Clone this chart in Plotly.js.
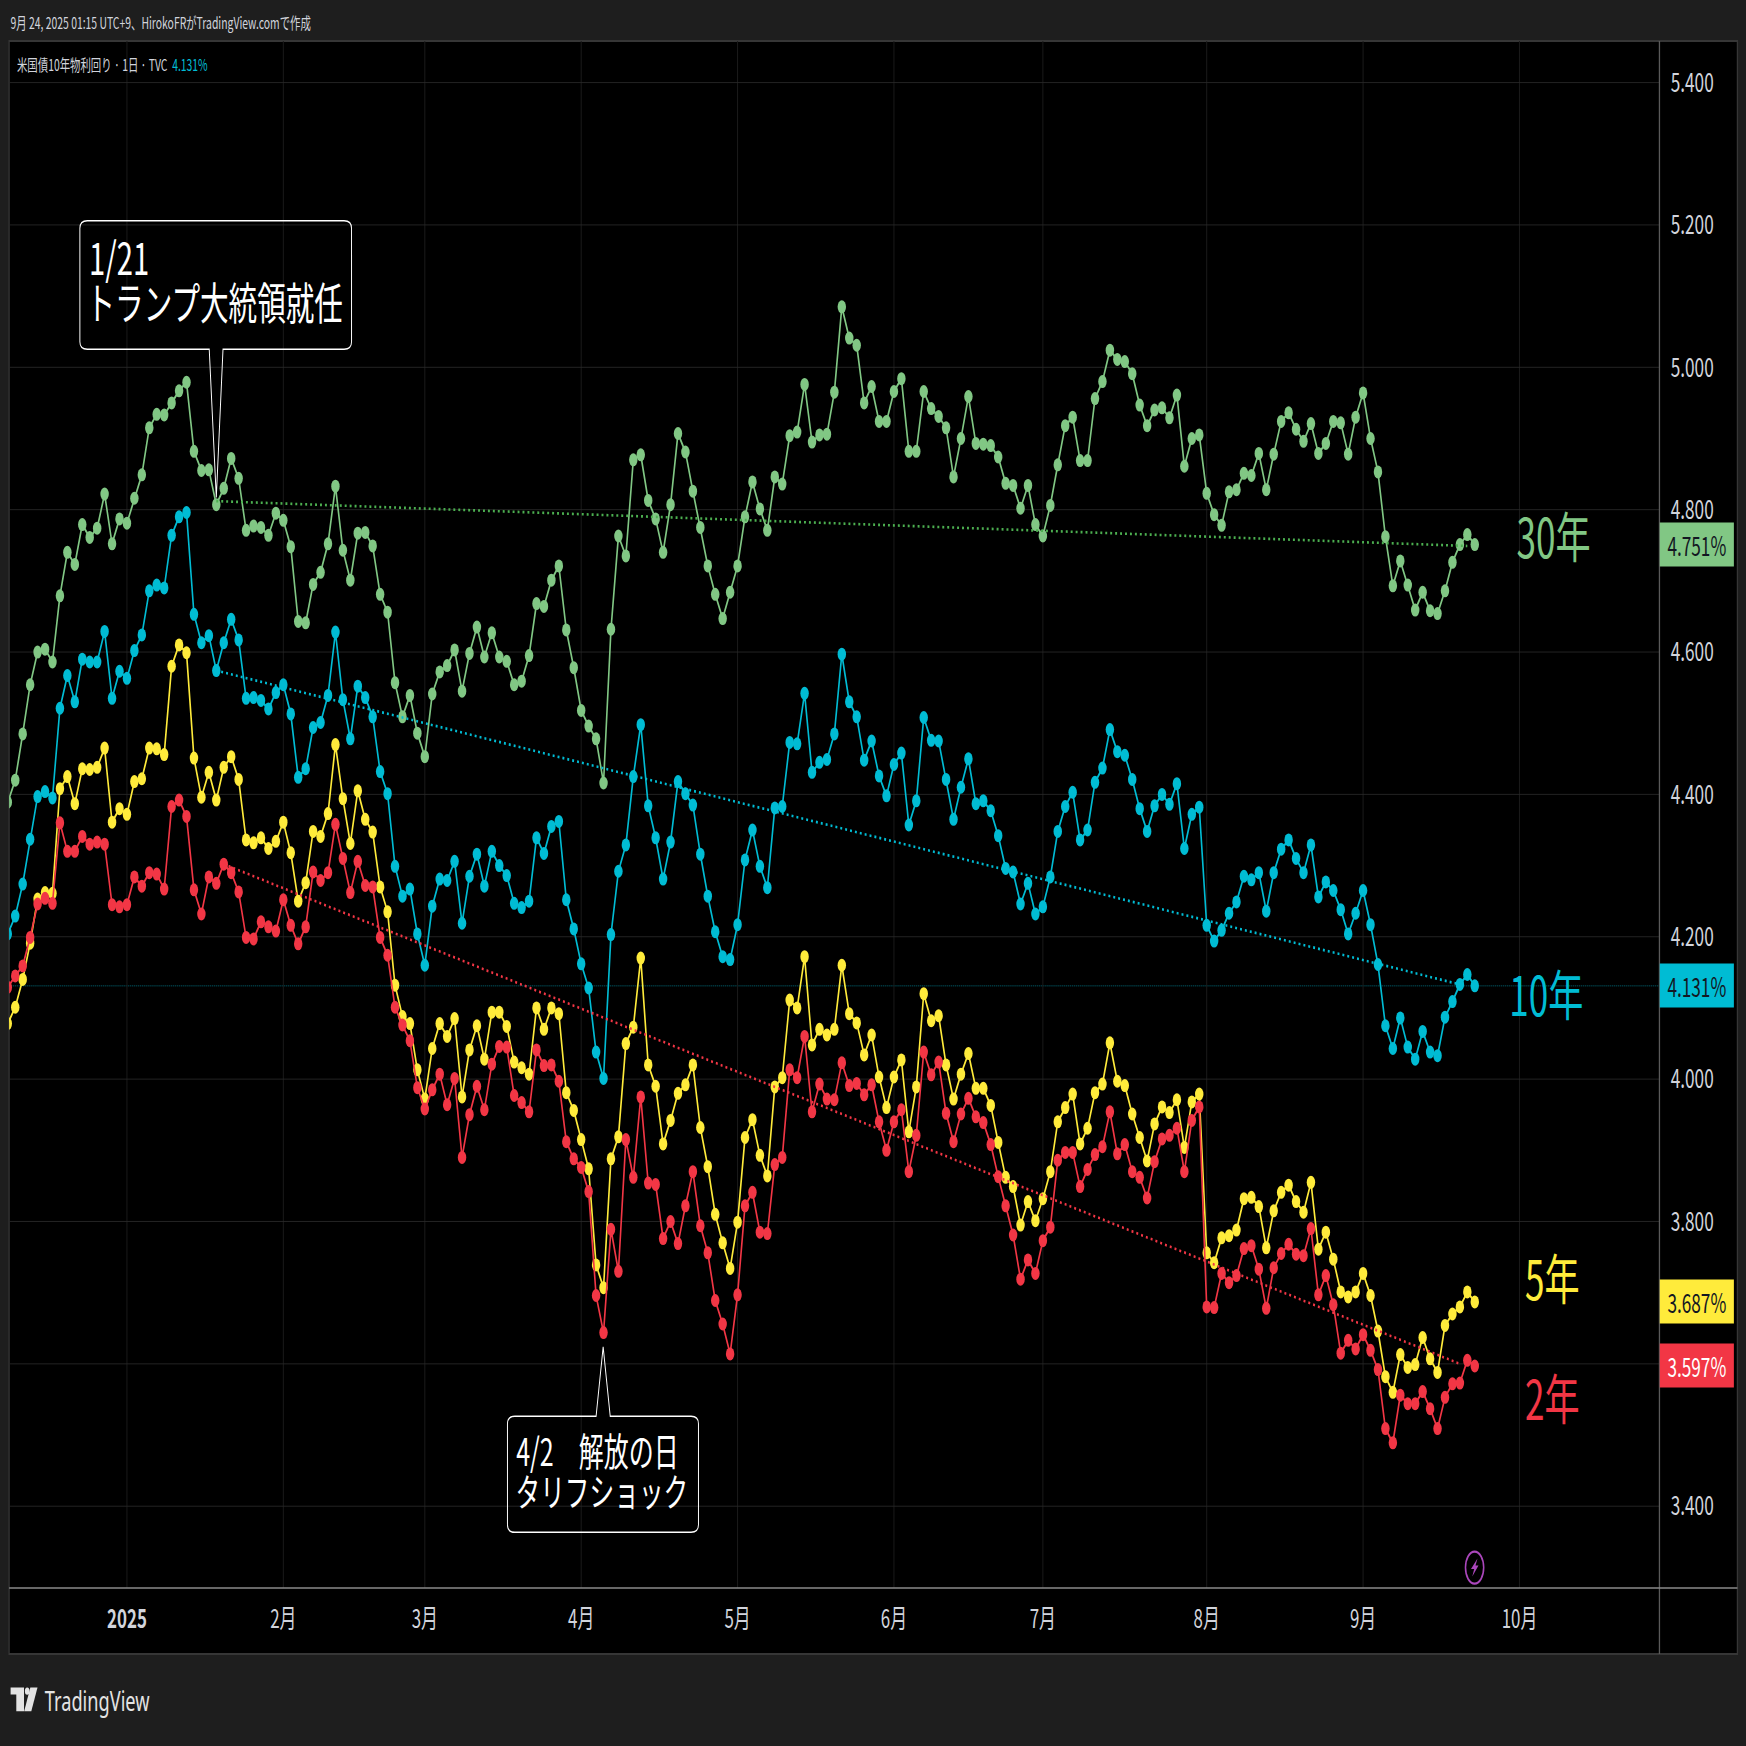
<!DOCTYPE html>
<html><head><meta charset="utf-8">
<script src="https://cdn.plot.ly/plotly-3.0.1.min.js"></script>
<style>
html,body{margin:0;padding:0;width:1746px;height:1746px;overflow:hidden;background:#1e1e1e}
#wrap{width:1746px;height:1746px;overflow:hidden;position:relative}
#chart{width:2686px;height:1746px;transform:scaleX(0.65);transform-origin:0 0;position:absolute;left:0;top:0}
</style></head><body><div id="wrap"><div id="chart"></div></div>
<script>
const yield30=[4.389,4.42,4.485,4.554,4.60,4.604,4.586,4.679,4.74,4.723,
4.779,4.761,4.774,4.822,4.752,4.787,4.781,4.816,4.849,4.915,
4.934,4.933,4.950,4.967,4.979,4.882,4.855,4.856,4.807,4.83,
4.872,4.844,4.771,4.777,4.775,4.764,4.795,4.785,4.748,4.643,
4.641,4.695,4.712,4.752,4.833,4.743,4.701,4.767,4.768,4.749,
4.681,4.656,4.557,4.509,4.539,4.486,4.453,4.541,4.572,4.581,
4.603,4.545,4.598,4.635,4.593,4.627,4.593,4.587,4.554,4.559,
4.595,4.668,4.664,4.701,4.721,4.631,4.578,4.518,4.496,4.478,
4.416,4.632,4.763,4.735,4.870,4.877,4.813,4.787,4.74,4.807,
4.907,4.881,4.826,4.775,4.721,4.681,4.647,4.684,4.721,4.790,
4.839,4.801,4.771,4.846,4.836,4.904,4.909,4.976,4.895,4.905,
4.906,4.965,5.085,5.041,5.031,4.950,4.973,4.924,4.924,4.966,
4.984,4.882,4.882,4.966,4.942,4.931,4.915,4.846,4.90,4.959,
4.893,4.892,4.89,4.874,4.837,4.834,4.802,4.834,4.779,4.763,
4.806,4.863,4.918,4.93,4.869,4.869,4.956,4.98,5.024,5.011,
5.008,4.991,4.947,4.918,4.94,4.943,4.929,4.961,4.861,4.90,
4.905,4.823,4.793,4.778,4.825,4.828,4.851,4.848,4.879,4.828,
4.878,4.924,4.936,4.913,4.896,4.921,4.879,4.893,4.924,4.922,
4.878,4.93,4.964,4.90,4.853,4.762,4.693,4.728,4.694,4.659,
4.684,4.658,4.654,4.686,4.726,4.751,4.765,4.751];
const yield10=[4.204,4.229,4.274,4.337,4.397,4.404,4.395,4.521,4.567,4.530,
4.59,4.586,4.586,4.629,4.535,4.573,4.563,4.602,4.624,4.686,
4.694,4.69,4.764,4.79,4.796,4.653,4.613,4.623,4.574,4.613,
4.646,4.617,4.535,4.536,4.532,4.52,4.543,4.554,4.513,4.424,
4.436,4.494,4.501,4.539,4.628,4.533,4.478,4.552,4.536,4.509,
4.432,4.401,4.299,4.257,4.267,4.204,4.16,4.243,4.281,4.279,
4.306,4.219,4.285,4.316,4.271,4.32,4.30,4.286,4.247,4.241,
4.25,4.339,4.317,4.355,4.362,4.252,4.211,4.162,4.128,4.038,
4.001,4.203,4.292,4.329,4.425,4.498,4.384,4.339,4.281,4.333,
4.418,4.401,4.385,4.316,4.257,4.207,4.172,4.168,4.217,4.308,
4.35,4.299,4.269,4.381,4.383,4.473,4.471,4.542,4.431,4.445,
4.449,4.485,4.597,4.53,4.509,4.448,4.475,4.426,4.398,4.442,
4.458,4.357,4.391,4.508,4.476,4.475,4.421,4.365,4.41,4.45,
4.387,4.391,4.377,4.342,4.296,4.291,4.246,4.275,4.232,4.242,
4.284,4.348,4.383,4.403,4.336,4.35,4.417,4.437,4.491,4.46,
4.455,4.421,4.38,4.348,4.384,4.4,4.386,4.415,4.324,4.372,
4.382,4.216,4.194,4.209,4.233,4.249,4.285,4.28,4.29,4.236,
4.29,4.323,4.336,4.31,4.29,4.329,4.256,4.277,4.265,4.238,
4.204,4.233,4.265,4.217,4.161,4.075,4.043,4.086,4.045,4.028,
4.067,4.038,4.033,4.087,4.109,4.133,4.147,4.131];
const yield5=[4.078,4.101,4.14,4.191,4.253,4.262,4.261,4.408,4.425,4.387,
4.436,4.435,4.438,4.465,4.361,4.38,4.372,4.418,4.422,4.465,
4.464,4.456,4.58,4.61,4.599,4.451,4.396,4.431,4.392,4.438,
4.453,4.421,4.336,4.332,4.339,4.324,4.334,4.361,4.318,4.25,
4.276,4.348,4.341,4.373,4.47,4.394,4.331,4.405,4.365,4.347,
4.27,4.235,4.132,4.088,4.078,4.013,3.972,4.043,4.078,4.06,
4.085,3.975,4.041,4.075,4.028,4.094,4.094,4.074,4.024,4.016,
4.007,4.10,4.07,4.10,4.092,3.981,3.956,3.915,3.874,3.739,
3.707,3.888,3.919,4.05,4.073,4.17,4.02,3.99,3.909,3.942,
3.98,3.992,4.02,3.932,3.877,3.81,3.77,3.734,3.799,3.918,
3.943,3.893,3.864,3.989,4.002,4.111,4.10,4.172,4.048,4.07,
4.062,4.07,4.16,4.092,4.079,4.034,4.062,4.003,3.96,4.003,
4.027,3.926,3.989,4.12,4.082,4.089,4.02,3.972,4.007,4.036,
3.987,3.987,3.963,3.911,3.862,3.849,3.795,3.828,3.801,3.832,
3.87,3.94,3.96,3.979,3.909,3.931,3.981,3.993,4.051,3.997,
3.991,3.951,3.918,3.885,3.937,3.961,3.953,3.971,3.904,3.968,
3.979,3.756,3.742,3.777,3.78,3.788,3.832,3.834,3.821,3.763,
3.815,3.841,3.851,3.828,3.813,3.855,3.761,3.785,3.747,3.701,
3.694,3.701,3.727,3.696,3.646,3.582,3.56,3.613,3.595,3.599,
3.637,3.607,3.588,3.654,3.67,3.68,3.701,3.687];
const yield2=[4.129,4.145,4.159,4.199,4.246,4.254,4.247,4.36,4.32,4.32,
4.341,4.33,4.333,4.33,4.245,4.242,4.245,4.284,4.271,4.29,
4.288,4.267,4.383,4.392,4.369,4.266,4.232,4.284,4.275,4.302,
4.29,4.263,4.199,4.197,4.221,4.214,4.208,4.252,4.216,4.19,
4.214,4.291,4.279,4.29,4.358,4.31,4.262,4.306,4.272,4.27,
4.199,4.174,4.101,4.076,4.054,3.988,3.958,3.985,4.007,3.964,
4.001,3.89,3.95,3.99,3.957,4.021,4.046,4.045,3.977,3.967,
3.954,4.041,4.019,4.02,3.997,3.912,3.888,3.876,3.842,3.696,
3.644,3.789,3.73,3.915,3.862,3.975,3.854,3.852,3.776,3.80,
3.769,3.822,3.87,3.794,3.756,3.689,3.656,3.614,3.697,3.822,
3.841,3.785,3.783,3.88,3.89,4.013,4.002,4.06,3.954,3.993,
3.972,3.971,4.023,3.991,3.994,3.978,3.992,3.94,3.90,3.94,
3.957,3.87,3.921,4.038,4.006,4.024,3.952,3.912,3.951,3.973,
3.947,3.939,3.908,3.863,3.822,3.781,3.719,3.746,3.727,3.773,
3.792,3.886,3.897,3.897,3.849,3.873,3.894,3.905,3.954,3.895,
3.908,3.87,3.862,3.833,3.884,3.916,3.921,3.931,3.87,3.942,
3.961,3.68,3.679,3.727,3.714,3.724,3.762,3.766,3.733,3.678,
3.735,3.755,3.768,3.754,3.752,3.79,3.697,3.724,3.683,3.615,
3.633,3.621,3.641,3.619,3.592,3.509,3.489,3.556,3.544,3.544,
3.561,3.537,3.509,3.553,3.572,3.573,3.605,3.597];

const trend30={x:[28,196],y:[4.812,4.749]};
const trend10={x:[28,195],y:[4.574,4.133]};
const trend2={x:[29,195],y:[4.302,3.60]};

const monthBars=[16,37,56,77,98,119,139,161,182,203];
const monthLabels=['<b>2025</b>','2月','3月','4月','5月','6月','7月','8月','9月','10月'];
const priceTicks=[3.4,3.6,3.8,4.0,4.2,4.4,4.6,4.8,5.0,5.2,5.4];

const GREEN='#81c784',CYAN='#00bcd4',YELLOW='#ffeb3b',RED='#f23645';
const JP='"Noto Sans CJK JP","Noto Sans",sans-serif';
const TXT='#d1d4dc';

// screen pixel -> paper helpers (decorations only)
const PL=8.8,PR=1659.5,PT=41,PB=1588.4;
const px=s=>(s-PL)/(PR-PL), py=s=>(PB-s)/(PB-PT);

const bars=yield30.map((_,i)=>i);
function series(y,c,name){return {x:bars,y:y,name:name,type:'scatter',mode:'lines+markers',
 line:{color:c,width:2.5},marker:{color:c,size:13,line:{width:0}},hoverinfo:'skip'};}
function trend(t,c){return {x:t.x,y:t.y,type:'scatter',mode:'lines',line:{color:c,width:2.6,dash:'3px,4.6px'},hoverinfo:'skip'};}
const traces=[series(yield30,GREEN,'30年'),series(yield10,CYAN,'10年'),series(yield5,YELLOW,'5年'),series(yield2,RED,'2年'),
 trend(trend30,'#4caf50'),trend(trend10,CYAN),trend(trend2,RED)];

function callout(x0,x1,y0,y1,bx0,bx1,tx,ty,up){
 const rx=1.0,ry=0.0105;
 let p=`M${x0+rx},${y1} `;
 if(up) p+=`L${bx0},${y1} L${tx},${ty} L${bx1},${y1} `;
 p+=`L${x1-rx},${y1} Q${x1},${y1} ${x1},${y1-ry} L${x1},${y0+ry} Q${x1},${y0} ${x1-rx},${y0} `;
 if(!up) p+=`L${bx1},${y0} L${tx},${ty} L${bx0},${y0} `;
 p+=`L${x0+rx},${y0} Q${x0},${y0} ${x0},${y0+ry} L${x0},${y1-ry} Q${x0},${y1} ${x0+rx},${y1} Z`;
 return {type:'path',xref:'x',yref:'y',path:p,line:{color:'#ffffff',width:1.5},layer:'above'};
}
const pp=(a)=>'M'+a.map(q=>px(q[0])+','+py(q[1])).join(' L')+' Z';
const shapes=[
 {type:'rect',xref:'paper',yref:'paper',x0:px(8.8),x1:px(1737.5),y0:py(1654.4),y1:1,fillcolor:'#000',line:{color:'#363636',width:2},layer:'below'},
 {type:'line',xref:'paper',yref:'paper',x0:1,x1:1,y0:py(1654.4),y1:1,line:{color:'#5a5a5a',width:2},layer:'above'},
 {type:'line',xref:'paper',yref:'paper',x0:0,x1:px(1737.5),y0:0,y1:0,line:{color:'#8a8a8a',width:1.3},layer:'above'},
 {type:'line',xref:'paper',yref:'y',x0:0,x1:1,y0:4.131,y1:4.131,line:{color:'rgba(0,188,212,0.55)',width:1,dash:'2px,1px'},layer:'below'},
 callout(9.68,46.16,5.0253,5.2059,27.05,28.9,28,4.817,false),
 callout(67.1,92.75,3.3634,3.5263,79.0,80.9,79.95,3.624,true),
 {type:'path',xref:'paper',yref:'paper',path:pp([[10.3,1688],[23.7,1688],[23.7,1711.7],[16,1711.7],[16,1695],[10.3,1695]]),fillcolor:'#e3e3e3',line:{width:0}},
 {type:'path',xref:'paper',yref:'paper',path:pp([[30,1688],[37.2,1688],[31,1711.7],[23.9,1711.7]]),fillcolor:'#e3e3e3',line:{width:0}},
 {type:'circle',xref:'paper',yref:'paper',x0:px(24.6),x1:px(29.2),y0:py(1695.2),y1:py(1688),fillcolor:'#e3e3e3',line:{width:0}},
 {type:'circle',xref:'paper',yref:'paper',x0:px(1465.5),x1:px(1483.7),y0:py(1584),y1:py(1552),fillcolor:'rgba(0,0,0,0)',line:{color:'#ab47bc',width:2.4},layer:'above'},
 {type:'path',xref:'paper',yref:'paper',path:pp([[1477.5,1559],[1471,1569.5],[1474.2,1569.5],[1472.3,1577],[1478.5,1566],[1475.5,1566]]),fillcolor:'#ab47bc',line:{width:0},layer:'above'}
];
function priceBox(v,c,fc){return {xref:'paper',yref:'y',x:1,xanchor:'left',y:v,yanchor:'middle',text:v.toFixed(3)+'%',showarrow:false,
 bgcolor:c,width:113,height:43,borderpad:0,align:'center',valign:'middle',font:{family:JP,size:26.5,color:fc}};}
function note(k,v,t,size,c,anchor){return {xref:'x',yref:'y',x:k,y:v,text:t,showarrow:false,xanchor:anchor||'left',yanchor:'middle',font:{family:JP,size:size,color:c}};}
const annotations=[
 priceBox(4.751,GREEN,'#131722'),priceBox(4.131,CYAN,'#131722'),priceBox(3.687,YELLOW,'#131722'),priceBox(3.597,RED,'#ffffff'),
 note(207.6,4.765,'30年',54,GREEN,'center'),note(206.6,4.121,'10年',54,CYAN,'center'),
 note(207.4,3.723,'5年',54,YELLOW,'center'),note(207.4,3.554,'2年',54,RED,'center'),
 note(10.7,5.1565,'1/21',45,'#ffffff'),note(10.35,5.0936,'トランプ大統領就任',44,'#ffffff'),
 note(68.1,3.4805,'4/2　解放の日',38.5,'#ffffff'),note(68.0,3.4229,'タリフショック',38,'#ffffff'),
 {xref:'paper',yref:'paper',x:px(8.5),y:py(22),xanchor:'left',yanchor:'middle',showarrow:false,text:'9月 24, 2025 01:15 UTC+9、HirokoFRがTradingView.comで作成',font:{family:JP,size:16,color:TXT}},
 {xref:'paper',yref:'paper',x:px(15),y:py(64),xanchor:'left',yanchor:'middle',showarrow:false,text:'米国債10年物利回り · 1日 · TVC  <span style="color:#00bcd4">4.131%</span>',font:{family:JP,size:16,color:TXT}},
 {xref:'paper',yref:'paper',x:px(43),y:py(1700),xanchor:'left',yanchor:'middle',showarrow:false,text:'TradingView',font:{family:'"Noto Sans",sans-serif',size:28,color:'#e3e3e3'}}
];
const layout={width:2686,height:1746,paper_bgcolor:'#1e1e1e',plot_bgcolor:'#000',showlegend:false,
 margin:{l:PL/0.65,r:2686-PR/0.65,t:PT,b:1746-PB,pad:0},
 xaxis:{type:'linear',range:[0.175,221.8],tickmode:'array',tickvals:monthBars,ticktext:monthLabels,showgrid:true,gridcolor:'#1b1b1b',gridwidth:1.5,zeroline:false,showline:false,
   ticks:'outside',ticklen:8,tickcolor:'rgba(0,0,0,0)',tickfont:{family:JP,size:26,color:TXT},fixedrange:true},
 yaxis:{side:'right',type:'linear',range:[3.2851,5.4584],tickmode:'array',tickvals:priceTicks,tickformat:'.3f',ticksuffix:'%',showgrid:true,gridcolor:'#2a2a2a',gridwidth:1,zeroline:false,showline:false,
   ticks:'outside',ticklen:11,tickcolor:'rgba(0,0,0,0)',tickfont:{family:JP,size:26.5,color:TXT},fixedrange:true},
 shapes:shapes,annotations:annotations,hovermode:false};
Plotly.newPlot('chart',traces,layout,{staticPlot:true,displayModeBar:false,responsive:false});
</script></body></html>
